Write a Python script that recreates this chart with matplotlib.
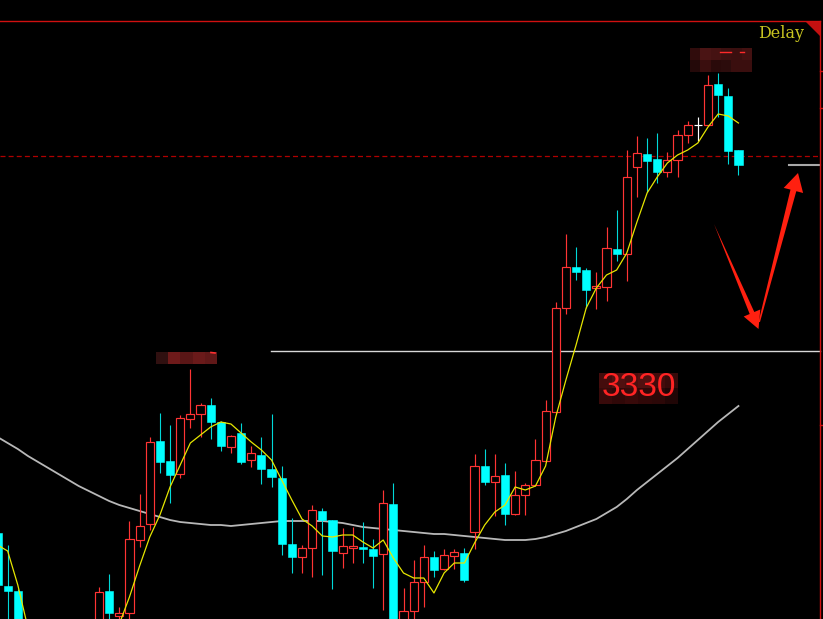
import numpy as np
import matplotlib
matplotlib.use("Agg")
import matplotlib.pyplot as plt
from matplotlib.patches import Rectangle, Polygon

nan = np.nan

# bar index (0 = first full bar of the main swing)
bars = list(range(-10, 64))

opens = [3148, 3095, 3090, nan, nan, nan, nan, nan, nan, nan,
         3041, 3090, 3065, 3068, 3141, 3157, 3240, 3220, 3207, 3262,
         3267, 3276, 3259, 3234, 3248, 3221, 3226, 3212, 3203, 3137,
         3124, 3133, 3170, 3161, 3128, 3133, 3134, 3132, 3127, 3177,
         3051, 3070, 3099, 3124, 3112, 3125, 3128, 3149, 3215, 3199,
         3206, 3167, 3186, 3196, 3220, 3269, 3373, 3414, 3411, 3393,
         3394, 3432, 3427, 3514, 3527, 3522, 3509, 3521, 3546, 3556,
         3556, 3597, 3585, 3531]
closes = [3096, 3090, 3041, nan, nan, nan, nan, nan, nan, nan,
          3089, 3068, 3068, 3142, 3155, 3239, 3219, 3206, 3263, 3267,
          3276, 3259, 3235, 3245, 3219, 3228, 3212, 3204, 3137, 3124,
          3133, 3171, 3161, 3130, 3135, 3135, 3132, 3125, 3178, 3041,
          3070, 3099, 3124, 3111, 3126, 3129, 3101, 3215, 3199, 3205,
          3167, 3186, 3196, 3221, 3270, 3373, 3414, 3409, 3391, 3395,
          3433, 3427, 3504, 3528, 3520, 3509, 3521, 3546, 3556, 3556,
          3596, 3586, 3530, 3516]
highs = [3150, 3136, 3092, nan, nan, nan, nan, nan, nan, nan,
         3094, 3107, 3074, 3160, 3187, 3244, 3268, 3256, 3266, 3312,
         3278, 3283, 3260, 3246, 3258, 3235, 3244, 3267, 3215, 3163,
         3136, 3176, 3173, 3161, 3153, 3154, 3159, 3142, 3191, 3198,
         3093, 3121, 3136, 3130, 3132, 3132, 3133, 3227, 3232, 3227,
         3218, 3210, 3198, 3242, 3281, 3379, 3447, 3434, 3413, 3409,
         3454, 3471, 3531, 3545, 3543, 3548, 3529, 3551, 3560, 3564,
         3606, 3608, 3593, 3531]
lows = [3081, 3051, 3031, nan, nan, nan, nan, nan, nan, nan,
        3036, 3056, 3053, 3059, 3134, 3151, 3208, 3178, 3203, 3253,
        3244, 3242, 3230, 3228, 3217, 3214, 3197, 3194, 3126, 3108,
        3108, 3104, 3106, 3092, 3113, 3118, 3118, 3093, 3071, 3031,
        3041, 3056, 3074, 3104, 3111, 3112, 3099, 3132, 3196, 3165,
        3156, 3166, 3166, 3195, 3219, 3268, 3367, 3401, 3373, 3372,
        3380, 3420, 3400, 3484, 3489, 3498, 3504, 3504, 3538, 3540,
        3555, 3564, 3517, 3506]

# short (yellow) and long (white) moving averages
ma_short = [3136, 3130, 3096, 3053, 3041, 3033, 3029, 3029, 3033, 3039,
            3043, 3049, 3057, 3084, 3115, 3144, 3166, 3194, 3216, 3238,
            3246, 3254, 3259, 3257, 3248, 3239, 3231, 3221, 3201, 3181,
            3162, 3155, 3145, 3144, 3146, 3146, 3139, 3133, 3141, 3123,
            3108, 3103, 3103, 3088, 3108, 3118, 3118, 3138, 3156, 3169,
            3176, 3194, 3191, 3195, 3215, 3264, 3301, 3336, 3373, 3393,
            3406, 3411, 3428, 3459, 3488, 3504, 3518, 3526, 3531, 3538,
            3554, 3567, 3565, 3558]
ma_long = [3244, 3238, 3232, 3225, 3219, 3213, 3207, 3201, 3195, 3190,
           3185, 3180, 3176, 3173, 3170, 3167, 3164, 3161, 3159, 3158,
           3157, 3156, 3156, 3155, 3156, 3157, 3158, 3159, 3160, 3160,
           3160, 3160, 3160, 3159, 3158, 3156, 3154, 3153, 3152, 3151,
           3150, 3149, 3148, 3147, 3147, 3146, 3145, 3144, 3143, 3142,
           3141, 3141, 3141, 3142, 3144, 3147, 3150, 3154, 3158, 3162,
           3168, 3174, 3182, 3191, 3199, 3207, 3215, 3223, 3232, 3241,
           3250, 3259, 3267, 3275]

# reference levels
last_level = 3525
target_level = 3330
target_label = "3330"
side_level = 3516

UP = "#ff3434"
DOWN = "#00ffff"
DOWN_WICK = "#00d8d8"

W, H = 823, 619
fig = plt.figure(figsize=(W / 100, H / 100), dpi=100, facecolor="black")
ax = fig.add_axes([0, 0, 1, 1], facecolor="black")
step = 10.15
x_left = -99 / step
ax.set_xlim(x_left, x_left + W / step)
ax.set_ylim(3681 - H, 3681)
ax.axis("off")

bw = 0.8
lw = 0.85
for i, o, h, l, c in zip(bars, opens, highs, lows, closes):
    if np.isnan(o):
        continue
    if c > o:
        ax.vlines(i, c, h, color=UP, lw=lw, zorder=3)
        ax.vlines(i, l, o, color=UP, lw=lw, zorder=3)
        ax.add_patch(Rectangle((i - bw / 2, o), bw, c - o, facecolor="black",
                               edgecolor=UP, lw=lw, zorder=3))
    elif c < o:
        ax.vlines(i, l, h, color=DOWN_WICK, lw=0.8, zorder=3)
        ax.add_patch(Rectangle((i - bw / 2, c), bw, max(o - c, 1.5), facecolor=DOWN,
                               edgecolor=DOWN, lw=0.4, zorder=3))
    else:
        ax.vlines(i, l, h, color="white", lw=lw, zorder=3)
        ax.hlines(o, i - bw / 2, i + bw / 2, color="white", lw=lw, zorder=3)

ax.plot(bars, ma_long, color="#b8b8b8", lw=1.3, zorder=2)
ax.plot(bars, ma_short, color="#e6e600", lw=0.9, zorder=4)

ax.axhline(last_level, xmin=0, xmax=820 / W, color="#b00000", lw=0.9,
           ls=(0, (4, 2.5)), zorder=1)
ax.axhline(target_level, xmin=271 / W, xmax=820 / W, color="#d8d8d8", lw=1.0, zorder=1)
ax.axhline(side_level, xmin=789 / W, xmax=820 / W, color="#a8a8a8", lw=1.5, zorder=1)

# overlay in pixel coordinates for frame, arrows and labels
ov = fig.add_axes([0, 0, 1, 1], facecolor="none")
ov.set_xlim(0, W)
ov.set_ylim(H, 0)
ov.axis("off")

frame_red = "#d01010"
ov.plot([0, 820.5], [20.5, 20.5], color=frame_red, lw=1.0)
ov.plot([820.5, 820.5], [20.5, H], color=frame_red, lw=1.0)
ov.add_patch(Polygon([(805, 21), (820, 21), (820, 36)], closed=True,
                     facecolor="#c41010", edgecolor="none"))
for ty in (71, 108, 425):
    ov.plot([820.5, 823], [ty, ty], color=frame_red, lw=1.0)

ov.text(758, 34, "Delay", color="#c8c420", fontsize=11.5, family="DejaVu Serif",
        ha="left", va="center")

# hand-drawn arrows
arrow_red = "#ff2010"
ov.add_patch(Polygon([(714, 224), (754.3, 312), (760.3, 309.5), (758.5, 329),
                      (743.7, 316.5), (749.7, 314)], closed=True,
                     facecolor=arrow_red, edgecolor="none"))
ov.add_patch(Polygon([(758.5, 322), (790.5, 189.6), (783.7, 187.9), (798, 173),
                      (803.1, 193), (796.3, 191.2), (760, 322)], closed=True,
                     facecolor=arrow_red, edgecolor="none"))

# masked price tags
tag1 = np.array([[[0x30, 0x10, 0x10], [0x6e, 0x1a, 0x1a], [0x5a, 0x16, 0x16],
                  [0x6a, 0x1a, 0x1a], [0x60, 0x18, 0x18]]]) / 255
ov.imshow(tag1, extent=(156, 217, 364, 352), interpolation="nearest", aspect="auto")
ov.plot([211, 215], [352.5, 353], color="#ff3030", lw=1.2)

tag2 = np.array([[[0x30, 0x0c, 0x0c], [0x4a, 0x14, 0x14], [0x45, 0x12, 0x12],
                  [0x3c, 0x10, 0x10], [0x3a, 0x0f, 0x0f], [0x43, 0x11, 0x11]],
                 [[0x24, 0x09, 0x09], [0x3a, 0x0e, 0x0e], [0x2a, 0x0a, 0x0a],
                  [0x2c, 0x0c, 0x0c], [0x3a, 0x0e, 0x0e], [0x3a, 0x0e, 0x0e]]]) / 255
ov.imshow(tag2, extent=(690, 752, 72, 48), interpolation="nearest", aspect="auto")
ov.plot([720, 731], [52, 52], color="#ff2a2a", lw=1.0)
ov.plot([740, 744], [52, 52], color="#ff2a2a", lw=1.0)

tag3 = np.array([[[0x44, 0x0c, 0x0c], [0x50, 0x10, 0x10], [0x48, 0x0e, 0x0e],
                  [0x52, 0x10, 0x10], [0x44, 0x0c, 0x0c], [0x38, 0x0a, 0x0a]],
                 [[0x38, 0x0a, 0x0a], [0x30, 0x08, 0x08], [0x38, 0x0a, 0x0a],
                  [0x30, 0x08, 0x08], [0x2c, 0x08, 0x08], [0x20, 0x06, 0x06]]]) / 255
ov.imshow(tag3, extent=(599, 678, 404, 373), interpolation="nearest", aspect="auto")
ov.text(638.5, 388, target_label, color="#ff2424", fontsize=24,
        family="Liberation Sans", ha="center", va="center")

ov.set_xlim(0, W)
ov.set_ylim(H, 0)

fig.savefig("out.png", dpi=100, facecolor="black")
